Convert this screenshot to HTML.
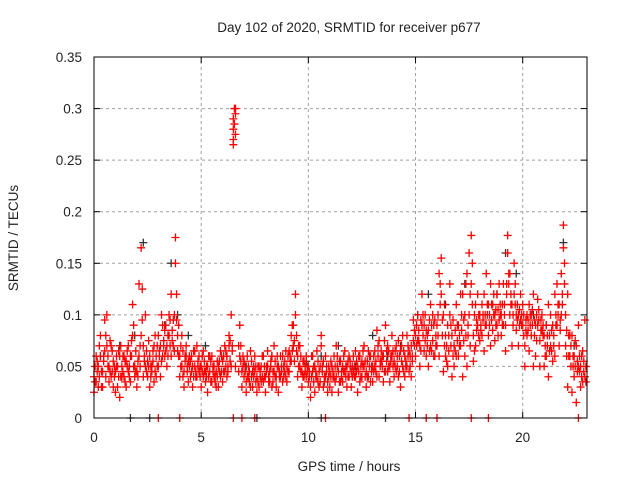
<!DOCTYPE html>
<html><head><meta charset="utf-8"><style>
body{margin:0;background:#fff}
svg text{font-family:"Liberation Sans",sans-serif;font-size:13.5px;fill:#222}
</style></head><body>
<svg id="chart" width="640" height="480" xmlns="http://www.w3.org/2000/svg">
<rect width="640" height="480" fill="#fff"/>
<text x="349" y="32" text-anchor="middle">Day 102 of 2020, SRMTID for receiver p677</text>
<text x="349" y="471" text-anchor="middle">GPS time / hours</text>
<text transform="translate(18,238) rotate(-90)" text-anchor="middle">SRMTID / TECUs</text>
<g id="grid"></g>
<g id="ticks"></g>
<g id="black"></g>
<g id="red"></g>
<rect x="94" y="57" width="493" height="361" fill="none" stroke="#000" stroke-width="1"/>
</svg>
<script>
const xTicks=[0,5,10,15,20];
const xTickLabels=["0","5","10","15","20"];
const yTicks=[0,0.05,0.1,0.15,0.2,0.25,0.3,0.35];
const yTickLabels=["0","0.05","0.1","0.15","0.2","0.25","0.3","0.35"];
const times=[0,.1,.2,.3,.4,.5,.6,.7,.8,.9,1,1.1,1.2,1.3,1.4,1.5,1.6,1.7,1.8,1.9,2,2.1,2.2,2.3,2.4,2.5,2.6,2.7,2.8,2.9,3,3.1,3.2,3.3,3.4,3.5,3.6,3.7,3.8,3.9,4,4.1,4.2,4.3,4.4,4.5,4.6,4.7,4.8,4.9,5,5.1,5.2,5.3,5.4,5.5,5.6,5.7,5.8,5.9,6,6.1,6.2,6.3,6.4,6.5,6.55,6.6,6.8,6.9,7,7.1,7.2,7.3,7.4,7.5,7.6,7.7,7.8,7.9,8,8.1,8.2,8.3,8.4,8.5,8.6,8.7,8.8,8.9,9,9.1,9.2,9.3,9.4,9.5,9.6,9.7,9.8,9.9,10,10.1,10.2,10.3,10.4,10.5,10.6,10.7,10.8,10.9,11,11.1,11.2,11.3,11.4,11.5,11.6,11.7,11.8,11.9,12,12.1,12.2,12.3,12.4,12.5,12.6,12.7,12.8,12.9,13,13.1,13.2,13.3,13.4,13.5,13.6,13.7,13.8,13.9,14,14.1,14.2,14.3,14.4,14.5,14.6,14.7,14.8,14.9,15,15.1,15.2,15.3,15.4,15.5,15.6,15.7,15.8,15.9,16,16.1,16.2,16.3,16.4,16.5,16.6,16.7,16.8,16.9,17,17.1,17.2,17.3,17.4,17.5,17.6,17.7,17.8,17.9,18,18.1,18.2,18.3,18.4,18.5,18.6,18.7,18.8,18.9,19,19.1,19.2,19.3,19.4,19.5,19.6,19.7,19.8,19.9,20,20.1,20.2,20.3,20.4,20.5,20.6,20.7,20.8,20.9,21,21.1,21.2,21.3,21.4,21.5,21.6,21.7,21.8,21.9,22,22.1,22.2,22.3,22.4,22.5,22.6,22.7,22.8,22.9];
const timesC=[.05,.15,.25,.35,.45,.55,.65,.75,.85,.95,1.05,1.15,1.25,1.35,1.45,1.55,1.65,1.75,1.85,1.95,2.05,2.15,2.25,2.35,2.45,2.55,2.65,2.75,2.85,2.95,3.05,3.15,3.25,3.35,3.45,3.55,3.65,3.75,3.85,3.95,4.05,4.15,4.25,4.35,4.45,4.55,4.65,4.75,4.85,4.95,5.05,5.15,5.25,5.35,5.45,5.55,5.65,5.75,5.85,5.95,6.05,6.15,6.25,6.35,6.45,6.5,6.6,6.75,6.85,6.95,7.05,7.15,7.25,7.35,7.45,7.55,7.65,7.75,7.85,7.95,8.05,8.15,8.25,8.35,8.45,8.55,8.65,8.75,8.85,8.95,9.05,9.15,9.25,9.35,9.45,9.55,9.65,9.75,9.85,9.95,10.05,10.15,10.25,10.35,10.45,10.55,10.65,10.75,10.85,10.95,11.05,11.15,11.25,11.35,11.45,11.55,11.65,11.75,11.85,11.95,12.05,12.15,12.25,12.35,12.45,12.55,12.65,12.75,12.85,12.95,13.05,13.15,13.25,13.35,13.45,13.55,13.65,13.75,13.85,13.95,14.05,14.15,14.25,14.35,14.45,14.55,14.65,14.75,14.85,14.95,15.05,15.15,15.25,15.35,15.45,15.55,15.65,15.75,15.85,15.95,16.05,16.15,16.25,16.35,16.45,16.55,16.65,16.75,16.85,16.95,17.05,17.15,17.25,17.35,17.45,17.55,17.65,17.75,17.85,17.95,18.05,18.15,18.25,18.35,18.45,18.55,18.65,18.75,18.85,18.95,19.05,19.15,19.25,19.35,19.45,19.55,19.65,19.75,19.85,19.95,20.05,20.15,20.25,20.35,20.45,20.55,20.65,20.75,20.85,20.95,21.05,21.15,21.25,21.35,21.45,21.55,21.65,21.75,21.85,21.95,22.05,22.15,22.25,22.35,22.45,22.55,22.65,22.75,22.85,22.95];
const seriesA=[.04,.035,.05,.06,.045,.095,.07,.05,.04,.055,.045,.03,.06,.05,.04,.055,.07,.06,.08,.05,.045,.06,.165,.07,.05,.04,.06,.05,.035,.06,.08,.07,.09,.06,.07,.1,.12,.095,.175,.08,.06,.05,.045,.07,.055,.04,.05,.065,.04,.06,.05,.04,.035,.05,.045,.06,.04,.03,.05,.065,.055,.045,.06,.07,.1,.29,.3,.275,.06,.045,.04,.035,.05,.03,.045,.06,.04,.03,.05,.035,.04,.05,.035,.06,.045,.03,.05,.04,.06,.055,.05,.065,.08,.07,.12,.06,.05,.045,.055,.04,.035,.03,.045,.05,.04,.03,.07,.055,.04,.035,.03,.05,.06,.04,.045,.055,.035,.065,.05,.04,.045,.06,.04,.05,.035,.055,.07,.045,.04,.06,.05,.065,.04,.075,.055,.06,.045,.07,.05,.06,.055,.07,.04,.065,.05,.06,.08,.045,.07,.095,.08,.1,.07,.12,.09,.06,.085,.11,.075,.095,.07,.14,.155,.1,.06,.09,.13,.08,.05,.11,.09,.07,.12,.06,.14,.1,.177,.08,.11,.09,.1,.08,.12,.09,.11,.13,.085,.1,.12,.095,.1,.13,.09,.177,.14,.11,.12,.085,.1,.095,.09,.07,.1,.11,.08,.12,.06,.09,.075,.1,.08,.06,.11,.07,.09,.12,.13,.07,.14,.187,.1,.12,.06,.08,.04,.07,.05,.03,.065,.04];
const seriesB=[.025,.06,.03,.08,.03,.065,.1,.035,.07,.03,.025,.05,.02,.04,.06,.03,.045,.035,.11,.04,.03,.13,.08,.04,.1,.055,.03,.045,.07,.04,.05,.04,.06,.085,.05,.08,.06,.07,.15,.065,.04,.08,.03,.06,.035,.055,.03,.05,.07,.045,.03,.065,.045,.025,.06,.035,.05,.045,.03,.04,.035,.07,.04,.08,.05,.265,.285,.05,.09,.03,.055,.025,.04,.065,.03,.045,.025,.05,.035,.06,.025,.065,.045,.03,.07,.04,.025,.06,.035,.045,.035,.045,.055,.09,.1,.04,.07,.03,.04,.06,.05,.02,.06,.025,.065,.045,.08,.03,.06,.025,.045,.025,.04,.07,.025,.035,.05,.045,.03,.06,.03,.045,.065,.025,.06,.04,.05,.03,.065,.035,.035,.05,.085,.04,.065,.035,.09,.045,.035,.08,.04,.045,.075,.03,.08,.04,.05,.065,.04,.075,.06,.075,.05,.09,.065,.085,.05,.07,.1,.06,.09,.06,.12,.045,.08,.05,.1,.04,.07,.06,.06,.12,.04,.1,.05,.16,.13,.055,.07,.12,.075,.11,.065,.14,.08,.07,.11,.075,.09,.13,.08,.09,.065,.16,.1,.07,.15,.1,.07,.12,.11,.05,.08,.065,.1,.05,.09,.115,.05,.085,.05,.09,.04,.1,.055,.06,.09,.11,.1,.165,.07,.03,.08,.025,.06,.015,.09,.05,.035,.095];
const seriesC=[.05,.045,.07,.03,.055,.08,.06,.045,.065,.05,.06,.04,.07,.045,.055,.065,.05,.06,.09,.065,.055,.07,.125,.06,.045,.075,.05,.065,.08,.05,.065,.1,.075,.09,.08,.095,.085,.1,.12,.09,.07,.065,.055,.05,.06,.045,.065,.04,.055,.05,.045,.055,.04,.06,.035,.05,.04,.055,.045,.06,.045,.065,.05,.075,.065,.28,.295,.07,.055,.06,.045,.06,.035,.055,.04,.05,.035,.045,.06,.04,.05,.035,.055,.045,.04,.06,.045,.05,.04,.065,.06,.055,.09,.075,.065,.05,.06,.04,.05,.045,.04,.06,.035,.045,.055,.035,.05,.04,.045,.05,.055,.04,.05,.06,.035,.045,.06,.04,.055,.05,.05,.04,.055,.045,.05,.065,.04,.055,.05,.045,.06,.045,.07,.055,.05,.075,.055,.065,.06,.05,.065,.05,.06,.055,.065,.05,.07,.06,.055,.085,.09,.075,.095,.08,.1,.07,.095,.065,.09,.08,.1,.13,.08,.11,.07,.065,.09,.06,.085,.075,.08,.1,.075,.13,.08,.07,.15,.1,.085,.1,.09,.095,.1,.11,.1,.095,.12,.09,.105,.11,.09,.11,.13,.14,.12,.09,.13,.11,.09,.1,.1,.085,.095,.09,.105,.08,.1,.095,.085,.09,.07,.08,.065,.085,.07,.1,.11,.085,.12,.15,.085,.06,.07,.05,.075,.045,.06,.04,.055,.035];
const seriesD=[.035,.055,.04,.045,.06,.04,.05,.075,.045,.04,.05,.065,.04,.06,.035,.05,.04,.075,.05,.045,.04,.05,.095,.055,.065,.05,.04,.055,.045,.07,.06,.055,.07,.065,.06,.07,.075,.065,.095,.06,.05,.04,.06,.045,.05,.06,.04,.045,.05,.04,.06,.045,.05,.04,.055,.045,.035,.04,.055,.045,.06,.05,.045,.055,.07,.27,.3,.045,.07,.05,.05,.04,.045,.04,.05,.035,.05,.04,.04,.05,.045,.04,.05,.035,.055,.05,.04,.045,.05,.04,.045,.06,.065,.055,.08,.07,.045,.055,.045,.05,.045,.04,.05,.04,.035,.05,.045,.035,.05,.04,.04,.045,.035,.05,.055,.04,.045,.05,.04,.055,.04,.05,.045,.06,.04,.05,.055,.04,.06,.05,.045,.055,.06,.05,.06,.045,.065,.05,.055,.065,.05,.06,.045,.07,.045,.055,.06,.05,.06,.07,.07,.085,.065,.1,.075,.08,.065,.09,.06,.07,.08,.11,.095,.07,.055,.08,.07,.095,.065,.09,.07,.085,.095,.08,.09,.12,.11,.065,.095,.08,.085,.1,.09,.1,.09,.11,.1,.105,.08,.1,.11,.1,.12,.13,.11,.1,.11,.095,.105,.09,.08,.095,.085,.1,.09,.095,.075,.105,.095,.08,.06,.07,.08,.065,.08,.09,.1,.095,.11,.13,.06,.08,.05,.06,.05,.055,.045,.06,.045,.05];
const blackTimes=[0.3,1.2,1.9,2.3,3.3,3.6,3.9,4.4,5.2,6.2,7.1,8.3,9.3,9.9,10.6,11.4,12.2,13.0,13.7,14.3,15.1,15.6,16.4,17.3,18.0,18.8,19.2,19.7,20.5,21.1,21.9,22.4];
const blackValues=[.06,.07,.08,.17,.09,.15,.1,.08,.07,.06,.05,.06,.07,.055,.06,.07,.05,.08,.06,.07,.1,.12,.11,.13,.1,.12,.16,.14,.1,.09,.17,.07];
const zeroTimes=[3.0,4.0,6.5,6.9,7.5,10.8,14.7,15.5,16.0,17.6,18.4,22.6];
const blackZeroTimes=[1.7,2.6,7.6,10.6,13.6];

const X0=94,X1=587,Y0=418,Y1=57,XMAX=23,YMAX=0.35;
const xs=t=>X0+(X1-X0)*t/XMAX;
const ys=v=>Y0-(Y0-Y1)*v/YMAX;
const NS="http://www.w3.org/2000/svg";
function mk(tag,attrs,parent){const e=document.createElementNS(NS,tag);for(const k in attrs)e.setAttribute(k,attrs[k]);parent.appendChild(e);return e;}
const grid=document.getElementById('grid'),ticks=document.getElementById('ticks');
xTicks.forEach((t,i)=>{
  const x=xs(t);
  if(t>0){const g=mk('line',{x1:x,x2:x,y1:Y0,y2:Y1,stroke:'#a0a0a0','stroke-dasharray':'3,3'},grid);
  
  }
  mk('line',{x1:x,x2:x,y1:Y0,y2:Y0-6,stroke:'#000'},ticks);
  mk('line',{x1:x,x2:x,y1:Y1,y2:Y1+6,stroke:'#000'},ticks);
  const l=mk('text',{x:x,y:Y0+24,'text-anchor':'middle'},ticks);l.textContent=xTickLabels[i];
  
  
});
yTicks.forEach((v,i)=>{
  const y=ys(v);
  if(v>0&&v<YMAX){const g=mk('line',{x1:X0,x2:X1,y1:y,y2:y,stroke:'#a0a0a0','stroke-dasharray':'3,3'},grid);
  
  }
  mk('line',{x1:X0,x2:X0+6,y1:y,y2:y,stroke:'#000'},ticks);
  mk('line',{x1:X1,x2:X1-6,y1:y,y2:y,stroke:'#000'},ticks);
  const l=mk('text',{x:X0-12,y:y+5,'text-anchor':'end'},ticks);l.textContent=yTickLabels[i];
  
  
});
function plus(t,v,color,parent){
  const x=xs(t),y=ys(v);
  const p=mk('path',{d:`M${x-4},${y}h8M${x},${y-4}v8`,stroke:color,'stroke-width':1.3,fill:'none'},parent);
  
  
}
const black=document.getElementById('black'),red=document.getElementById('red');
blackTimes.forEach((t,i)=>plus(t,blackValues[i],'#333',black));
blackZeroTimes.forEach(t=>plus(t,0,'#333',black));
times.forEach((t,i)=>{plus(t,seriesA[i],'#f00',red);plus(t,seriesB[i],'#f00',red);});
timesC.forEach((t,i)=>{plus(t,seriesC[i],'#f00',red);plus(t,seriesD[i],'#f00',red);});
zeroTimes.forEach(t=>plus(t,0,'#f00',red));
</script>
</body></html>
